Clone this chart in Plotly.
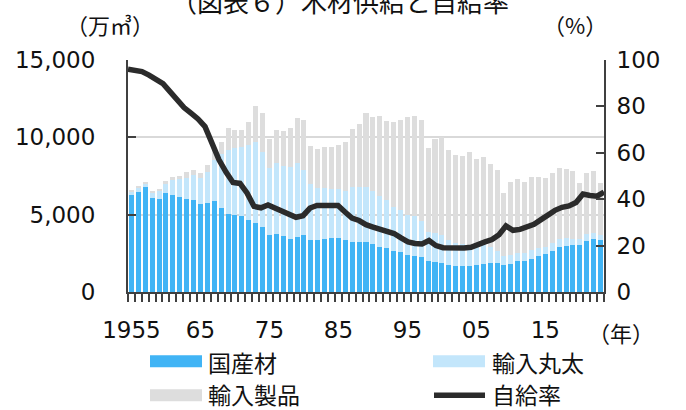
import plotly.graph_objects as go

years = list(range(1955, 2024))

domestic = [6250, 6480, 6760, 6050, 5990, 6380, 6290, 6160, 6030, 5970,
            5670, 5730, 5860, 5410, 5070, 4960, 4910, 4680, 4480, 4180,
            3670, 3770, 3650, 3450, 3580, 3670, 3370, 3390, 3450, 3500,
            3520, 3370, 3260, 3260, 3210, 3110, 2940, 2850, 2680, 2570,
            2400, 2360, 2250, 2030, 1950, 1860, 1730, 1670, 1670, 1710,
            1770, 1780, 1900, 1900, 1770, 1840, 1990, 2010, 2160, 2330,
            2460, 2680, 2940, 3000, 3070, 3070, 3320, 3450, 3390]

import_logs = [250, 300, 220, 410, 540, 660, 950, 1160, 1360, 1570,
               1690, 2020, 2680, 3510, 4130, 4340, 4490, 4820, 5250, 4860,
               4320, 4560, 4490, 4650, 4730, 4230, 3590, 3330, 3250, 3130,
               3110, 3180, 3500, 3500, 3550, 3400, 3240, 3080, 2790, 2710,
               2600, 2550, 2320, 1850, 1890, 1830, 1610, 1480, 1420, 1310,
               1250, 1280, 1040, 780, 560, 580, 540, 540, 540, 520,
               450, 510, 470, 470, 380, 360, 410, 350, 280]

import_products = [65, 30, 150, 45, 85, 110, 170, 170, 340, 365,
                   340, 480, 650, 810, 1430, 1180, 1080, 1480, 2320, 2520,
                   1890, 2170, 2280, 2490, 2930, 3230, 2470, 2520, 2650, 2730,
                   2880, 3140, 3790, 4090, 4800, 4800, 5200, 5100, 5510, 5810,
                   6300, 6450, 6540, 5440, 6060, 6300, 5870, 5740, 5700, 6020,
                   5610, 5660, 5360, 5180, 4040, 4690, 4800, 4580, 4730, 4600,
                   4470, 4490, 4600, 4500, 4390, 3640, 3940, 4000, 3400]

self_rate = [96.0, 95.3, 95.0, 93.5, 91.8, 89.8, 86.4, 83.1, 79.5, 77.1,
             74.6, 71.3, 64.2, 57.0, 51.7, 47.2, 46.8, 42.7, 36.9, 36.3,
             37.5, 36.2, 34.8, 33.2, 32.2, 32.9, 36.2, 37.3, 37.3, 37.6,
             37.3, 34.5, 31.9, 30.8, 29.0, 28.0, 27.0, 26.5, 25.2, 23.3,
             21.6, 20.9, 20.7, 22.2, 20.0, 19.1, 19.0, 19.0, 19.0, 19.3,
             20.7, 21.6, 22.6, 24.7, 28.5, 26.6, 27.0, 28.2, 29.2, 31.2,
             33.3, 35.2, 36.5, 37.1, 38.6, 42.2, 41.6, 41.3, 43.1]

tick_years = [1955, 1965, 1975, 1985, 1995, 2005, 2015]
tick_text = ["1955", "65", "75", "85", "95", "05", "15"]

series_names = ["国産材", "輸入丸太", "輸入製品", "自給率"]
C_DOM = "#41B4F5"
C_LOG = "#C3E6FB"
C_PROD = "#DDDDDD"
C_LINE = "#2B2B2B"
AX = "#404040"

NUM_FONT = "DejaVu Sans"
JP_FONT = "Noto Sans CJK JP"

fig = go.Figure()
fig.add_trace(go.Bar(x=years, y=domestic, name=series_names[0], marker_color=C_DOM,
                     marker_line_width=0))
fig.add_trace(go.Bar(x=years, y=import_logs, name=series_names[1], marker_color=C_LOG,
                     marker_line_width=0))
fig.add_trace(go.Bar(x=years, y=import_products, name=series_names[2], marker_color=C_PROD,
                     marker_line_width=0))
# line series spans edge to edge (its own category axis, points on tick marks)
fig.add_trace(go.Scatter(x=years, y=self_rate, name=series_names[3], xaxis="x2", yaxis="y2",
                         mode="lines", line=dict(color=C_LINE, width=5.5)))

L, R, T, B = 128, 604, 60, 292.5
W, H = R - L, B - T


def px(x):
    return (x - L) / W


def py(y):
    return (B - y) / H


fig.update_layout(
    width=686, height=410,
    margin=dict(l=L, r=686 - R, t=T, b=410 - B, pad=0),
    paper_bgcolor="white", plot_bgcolor="white",
    barmode="stack", bargap=0.27,
    showlegend=False,
    font=dict(family=NUM_FONT, size=23, color="#111111"),
    xaxis=dict(range=[1954.5, 2023.5], tickmode="array", tickvals=tick_years,
               ticktext=tick_text, ticks="", showgrid=False, zeroline=False,
               showline=True, linecolor=AX, linewidth=2,
               ticklabelstandoff=16,
               tickfont=dict(family=NUM_FONT, size=23, color="#111111"),
               minor=dict(tickmode="linear", tick0=1954.5, dtick=1, ticks="outside",
                          ticklen=8, tickwidth=1.5, tickcolor=AX, showgrid=False)),
    xaxis2=dict(range=[years[0], years[-1]], overlaying="x", visible=False),
    yaxis=dict(range=[0, 15000], tickvals=[0, 5000, 10000, 15000], tickformat=",",
               ticks="inside", ticklen=8, tickwidth=2, tickcolor=AX,
               showline=True, linecolor=AX, linewidth=2,
               showgrid=True, gridcolor="#D9D9D9", gridwidth=2, zeroline=False,
               ticklabelstandoff=26,
               tickfont=dict(family=NUM_FONT, size=23, color="#111111")),
    yaxis2=dict(range=[0, 100], dtick=20, overlaying="y", side="right",
                ticks="inside", ticklen=8, tickwidth=2, tickcolor=AX,
                showline=True, linecolor=AX, linewidth=2,
                showgrid=False, zeroline=False, ticklabelstandoff=6,
                tickfont=dict(family=NUM_FONT, size=23, color="#111111")),
)

annotations = [
    dict(text="（図表６）木材供給と自給率", x=px(340), y=py(0), xanchor="center",
         yanchor="middle", font=dict(family=JP_FONT, size=26, color="#111111")),
    dict(text="（万㎥）", x=px(110), y=py(24), xanchor="center", yanchor="middle",
         font=dict(family=JP_FONT, size=22, color="#111111")),
    dict(text="（%）", x=px(575), y=py(24), xanchor="center", yanchor="middle",
         font=dict(family=JP_FONT, size=22, color="#111111")),
    dict(text="（年）", x=px(586), y=py(333), xanchor="left", yanchor="middle",
         font=dict(family=JP_FONT, size=22, color="#111111")),
    dict(text=series_names[0], x=px(206), y=py(363), xanchor="left", yanchor="middle",
         font=dict(family=JP_FONT, size=23, color="#111111")),
    dict(text=series_names[1], x=px(490), y=py(363), xanchor="left", yanchor="middle",
         font=dict(family=JP_FONT, size=23, color="#111111")),
    dict(text=series_names[2], x=px(206), y=py(395), xanchor="left", yanchor="middle",
         font=dict(family=JP_FONT, size=23, color="#111111")),
    dict(text=series_names[3], x=px(490), y=py(395), xanchor="left", yanchor="middle",
         font=dict(family=JP_FONT, size=23, color="#111111")),
]
for a in annotations:
    a.update(xref="paper", yref="paper", showarrow=False)
fig.update_layout(annotations=annotations)

shapes = [
    dict(type="rect", x0=px(150), x1=px(202), y0=py(368), y1=py(356),
         fillcolor=C_DOM, line_width=0),
    dict(type="rect", x0=px(433), x1=px(485), y0=py(368), y1=py(356),
         fillcolor=C_LOG, line_width=0),
    dict(type="rect", x0=px(150), x1=px(202), y0=py(402), y1=py(390),
         fillcolor=C_PROD, line_width=0),
    dict(type="line", x0=px(434), x1=px(485), y0=py(396), y1=py(396),
         line=dict(color=C_LINE, width=5.5)),
]
for s in shapes:
    s.update(xref="paper", yref="paper")
fig.update_layout(shapes=shapes)

fig.write_html("out.html", config={"displayModeBar": False},
               post_script="document.body.style.margin='0';document.body.style.overflow='hidden';")
